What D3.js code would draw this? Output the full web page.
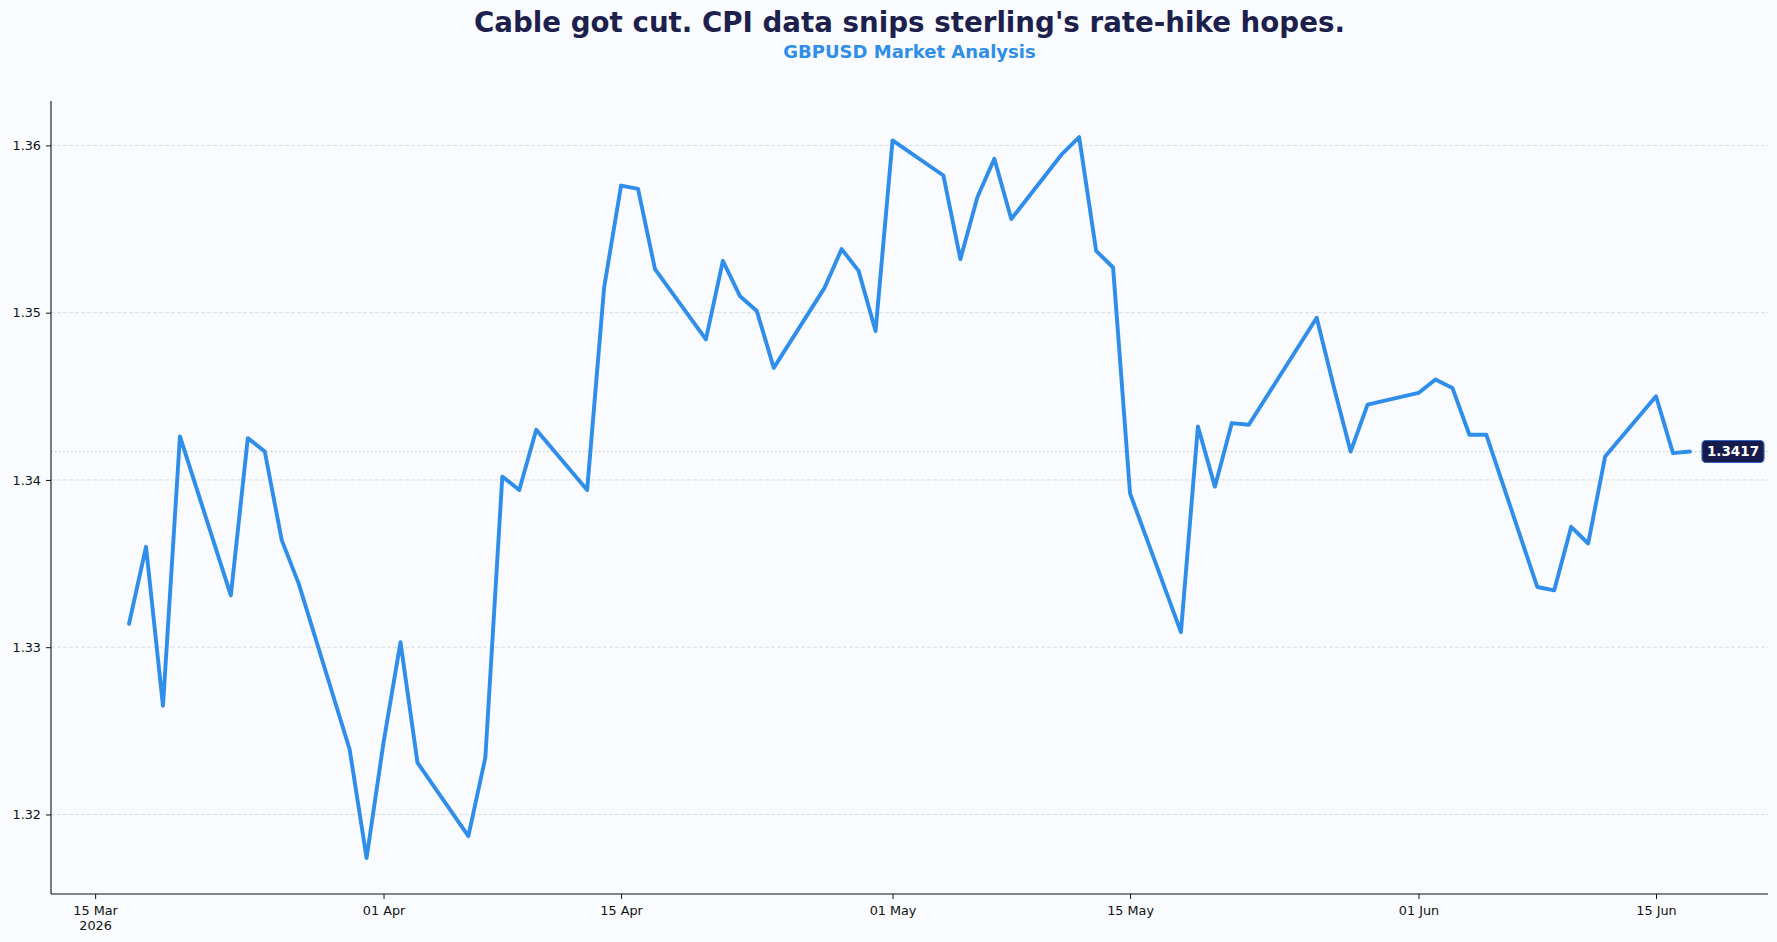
<!DOCTYPE html>
<html>
<head>
<meta charset="utf-8">
<script src="https://cdn.jsdelivr.net/npm/d3@7"></script>
<style>
  body { margin: 0; background: #f9fbfe; }
  svg { display: block; }
</style>
</head>
<body>
<div id="chart"></div>
<script>
var w = 1777;
var h = 942;

// GBPUSD daily closes (business days)
var dates = [
  "2026-03-17","2026-03-18","2026-03-19","2026-03-20",
  "2026-03-23","2026-03-24","2026-03-25","2026-03-26","2026-03-27",
  "2026-03-30","2026-03-31","2026-04-01","2026-04-02","2026-04-03",
  "2026-04-06","2026-04-07","2026-04-08","2026-04-09","2026-04-10",
  "2026-04-13","2026-04-14","2026-04-15","2026-04-16","2026-04-17",
  "2026-04-20","2026-04-21","2026-04-22","2026-04-23","2026-04-24",
  "2026-04-27","2026-04-28","2026-04-29","2026-04-30","2026-05-01",
  "2026-05-04","2026-05-05","2026-05-06","2026-05-07","2026-05-08",
  "2026-05-11","2026-05-12","2026-05-13","2026-05-14","2026-05-15",
  "2026-05-18","2026-05-19","2026-05-20","2026-05-21","2026-05-22",
  "2026-05-25","2026-05-26","2026-05-27","2026-05-28","2026-05-29",
  "2026-06-01","2026-06-02","2026-06-03","2026-06-04","2026-06-05",
  "2026-06-08","2026-06-09","2026-06-10","2026-06-11","2026-06-12",
  "2026-06-15","2026-06-16","2026-06-17"
];
var closes = [
  1.3314,1.3360,1.3265,1.3426,
  1.3331,1.3425,1.3417,1.3364,1.3338,
  1.3239,1.3174,1.3243,1.3303,1.3231,
  1.3187,1.3234,1.3402,1.3394,1.3430,
  1.3394,1.3515,1.3576,1.3574,1.3526,
  1.3484,1.3531,1.3510,1.3501,1.3467,
  1.3515,1.3538,1.3525,1.3489,1.3603,
  1.3582,1.3532,1.3569,1.3592,1.3556,
  1.3595,1.3605,1.3537,1.3527,1.3392,
  1.3309,1.3432,1.3396,1.3434,1.3433,
  1.3481,1.3497,1.3456,1.3417,1.3445,
  1.3452,1.3460,1.3455,1.3427,1.3427,
  1.3336,1.3334,1.3372,1.3362,1.3414,
  1.3450,1.3416,1.3417
];
var yTicks = [1.32, 1.33, 1.34, 1.35, 1.36];
var xTickDates = ["2026-03-15","2026-04-01","2026-04-15","2026-05-01","2026-05-15","2026-06-01","2026-06-15"];
var lastValue = 1.3417;

var title = "Cable got cut. CPI data snips sterling's rate-hike hopes.";
var subtitle = "GBPUSD Market Analysis";

var parse = d3.timeParse("%Y-%m-%d");
var data = dates.map(function(d, i) { return {date: parse(d), value: closes[i]}; });

var padL = 51, padR = 1768, padT = 101, padB = 894;

var svg = d3.select("#chart").append("svg")
  .attr("width", w)
  .attr("height", h);

svg.append("rect").attr("width", w).attr("height", h).attr("fill", "#f9fbfe");

// 5% margins like matplotlib
var xExt = d3.extent(data, function(d) { return d.date; });
var xPad = (xExt[1] - xExt[0]) * 0.05;
var yExt = d3.extent(data, function(d) { return d.value; });
var yPad = (yExt[1] - yExt[0]) * 0.05;

var x = d3.scaleTime()
  .domain([new Date(+xExt[0] - xPad), new Date(+xExt[1] + xPad)])
  .range([padL, padR]);
var y = d3.scaleLinear()
  .domain([yExt[0] - yPad, yExt[1] + yPad])
  .range([padB, padT]);

// grid
svg.append("g").selectAll("line")
  .data(yTicks)
  .enter().append("line")
  .attr("x1", padL).attr("x2", padR)
  .attr("y1", function(d) { return y(d); })
  .attr("y2", function(d) { return y(d); })
  .attr("stroke", "#d4d7dc")
  .attr("stroke-width", 0.8)
  .attr("stroke-dasharray", "4,2");

// last value reference line
svg.append("line")
  .attr("x1", padL).attr("x2", padR)
  .attr("y1", y(lastValue)).attr("y2", y(lastValue))
  .attr("stroke", "#b8bcc4")
  .attr("stroke-width", 0.9)
  .attr("stroke-dasharray", "1.5,2.5");

// price line
var line = d3.line()
  .x(function(d) { return x(d.date); })
  .y(function(d) { return y(d.value); });

svg.append("path")
  .datum(data)
  .attr("d", line)
  .attr("fill", "none")
  .attr("stroke", "#2e8ee9")
  .attr("stroke-width", 3.9)
  .attr("stroke-linejoin", "round")
  .attr("stroke-linecap", "round");

// axes
var fmtDay = d3.timeFormat("%d %b");
var yAxis = d3.axisLeft(y).tickValues(yTicks).tickSize(5).tickPadding(5).tickFormat(d3.format(".2f"));
var xAxis = d3.axisBottom(x).tickValues(xTickDates.map(parse)).tickSize(5).tickPadding(7).tickFormat(fmtDay);

var gy = svg.append("g").attr("transform", "translate(" + padL + ",0)").call(yAxis);
var gx = svg.append("g").attr("transform", "translate(0," + padB + ")").call(xAxis);

[gx, gy].forEach(function(g) {
  g.select(".domain").attr("stroke", "#111").attr("stroke-width", 1.1);
  g.selectAll(".tick line").attr("stroke", "#111").attr("stroke-width", 1);
  g.selectAll("text")
    .attr("fill", "#111")
    .style("font-family", "DejaVu Sans, sans-serif")
    .style("font-size", "12.8px");
});
gy.select(".domain").attr("d", "M0," + padB + "V" + padT);
gx.select(".domain").attr("d", "M" + padL + ",0H" + padR);

// year under first tick
gx.selectAll(".tick").filter(function(d, i) { return i === 0; })
  .append("text")
  .attr("y", 27)
  .attr("dy", "0.71em")
  .attr("text-anchor", "middle")
  .attr("fill", "#111")
  .style("font-family", "DejaVu Sans, sans-serif")
  .style("font-size", "12.8px")
  .text("2026");

// last value tag
var tagX = 1702, tagY = y(lastValue);
var tag = svg.append("g");
tag.append("rect")
  .attr("x", tagX).attr("y", tagY - 11)
  .attr("width", 62).attr("height", 22)
  .attr("rx", 4)
  .attr("fill", "#161b4c")
  .attr("stroke", "#3566c4")
  .attr("stroke-width", 1.2);
tag.append("text")
  .attr("x", tagX + 31).attr("y", tagY)
  .attr("dy", "0.36em")
  .attr("text-anchor", "middle")
  .attr("fill", "#ffffff")
  .style("font-family", "DejaVu Sans, sans-serif")
  .style("font-weight", "bold")
  .style("font-size", "13.5px")
  .text(lastValue.toFixed(4));

// titles
var cx = (padL + padR) / 2;
svg.append("text")
  .attr("x", cx).attr("y", 31.5)
  .attr("text-anchor", "middle")
  .attr("fill", "#1d1f4d")
  .style("font-family", "DejaVu Sans, sans-serif")
  .style("font-weight", "bold")
  .style("font-size", "27.7px")
  .text(title);

svg.append("text")
  .attr("x", cx).attr("y", 58)
  .attr("text-anchor", "middle")
  .attr("fill", "#2f8ee8")
  .style("font-family", "DejaVu Sans, sans-serif")
  .style("font-weight", "bold")
  .style("font-size", "18px")
  .text(subtitle);
</script>
</body>
</html>
